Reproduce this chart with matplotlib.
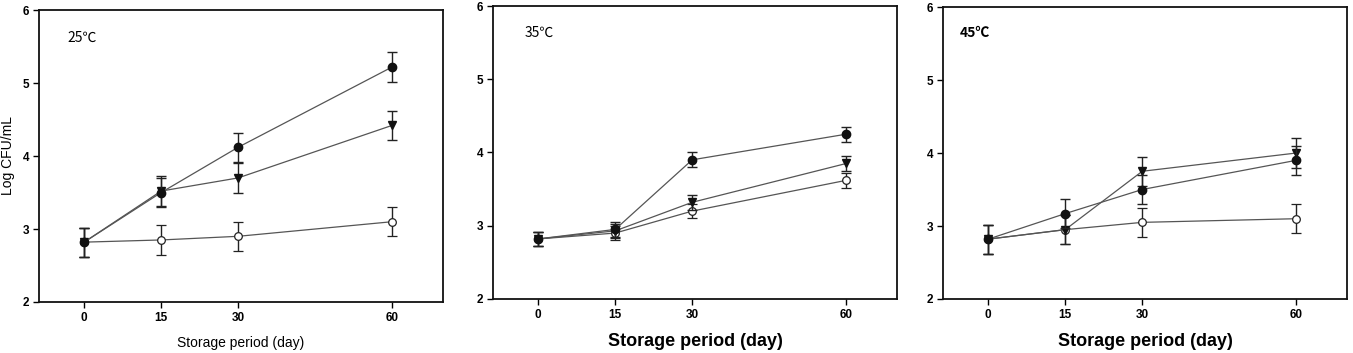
import matplotlib
matplotlib.use("Agg")
import matplotlib.pyplot as plt

plt.rcParams['font.family'] = ['Liberation Sans', 'DejaVu Sans']

days = [0, 15, 30, 60]
temps = ['25℃', '35℃', '45℃']

# filled circle series
fc_25 = [2.82, 3.50, 4.12, 5.22]
fc_25_err = [0.2, 0.2, 0.2, 0.2]
fc_35 = [2.82, 2.95, 3.90, 4.25]
fc_35_err = [0.1, 0.1, 0.1, 0.1]
fc_45 = [2.82, 3.17, 3.50, 3.90]
fc_45_err = [0.2, 0.2, 0.2, 0.2]

# filled triangle series
tri_25 = [2.82, 3.52, 3.70, 4.42]
tri_25_err = [0.2, 0.2, 0.2, 0.2]
tri_35 = [2.82, 2.93, 3.32, 3.85]
tri_35_err = [0.1, 0.1, 0.1, 0.1]
tri_45 = [2.82, 2.95, 3.75, 4.00]
tri_45_err = [0.2, 0.2, 0.2, 0.2]

# open circle series
oc_25 = [2.82, 2.85, 2.90, 3.10]
oc_25_err = [0.2, 0.2, 0.2, 0.2]
oc_35 = [2.82, 2.90, 3.20, 3.62]
oc_35_err = [0.1, 0.1, 0.1, 0.1]
oc_45 = [2.82, 2.95, 3.05, 3.10]
oc_45_err = [0.2, 0.2, 0.2, 0.2]

panels = [
    (fc_25, fc_25_err, tri_25, tri_25_err, oc_25, oc_25_err),
    (fc_35, fc_35_err, tri_35, tri_35_err, oc_35, oc_35_err),
    (fc_45, fc_45_err, tri_45, tri_45_err, oc_45, oc_45_err),
]

fig = plt.figure(figsize=(13.53, 3.53), dpi=100)
rects = [
    [0.0288, 0.1445, 0.2986, 0.827],
    [0.3644, 0.153, 0.2986, 0.830],
    [0.697, 0.153, 0.2986, 0.827],
]
label_pos = [(67, 38), (525, 33), (960, 33)]

for i, (rect, data) in enumerate(zip(rects, panels)):
    ax = fig.add_axes(rect)
    fc, fce, tri, trie, oc, oce = data
    kw = dict(color='#555555', lw=0.9, ecolor='#222222', elinewidth=1.0, capsize=3.5, capthick=1.0)
    ax.errorbar(days, oc, yerr=oce, marker='o', ms=5.5, mfc='white', mec='#222222', mew=0.9, zorder=3, **kw)
    ax.errorbar(days, tri, yerr=trie, marker='v', ms=6, mfc='#111111', mec='#111111', zorder=4, **kw)
    ax.errorbar(days, fc, yerr=fce, marker='o', ms=6, mfc='#111111', mec='#111111', zorder=5, **kw)

    ax.set_xlim(-8.8, 69.9)
    ax.set_ylim(2, 6)
    ax.set_xticks(days)
    ax.set_yticks([2, 3, 4, 5, 6])
    ax.tick_params(direction='out', length=4, width=1, labelsize=8.5, pad=3)
    for lab in ax.get_xticklabels() + ax.get_yticklabels():
        lab.set_fontweight('bold')
    for sp in ax.spines.values():
        sp.set_linewidth(1.3)
        sp.set_color('#111111')

    if i == 0:
        ax.set_xlabel('Storage period (day)', fontsize=10, labelpad=9)
    else:
        ax.set_xlabel('Storage period (day)', fontsize=13, fontweight='bold', labelpad=9)

    x, y = label_pos[i]
    fig.text(x / 1353, 1 - y / 353, temps[i], fontsize=10,
             fontweight='bold' if i == 2 else 'normal',
             ha='left', va='center', family=['Noto Sans CJK SC', 'DejaVu Sans'])

fig.text(8 / 1353, 0.56, 'Log CFU/mL', rotation=90, fontsize=10,
         ha='center', va='center')

fig.savefig('out.png', dpi=100)
